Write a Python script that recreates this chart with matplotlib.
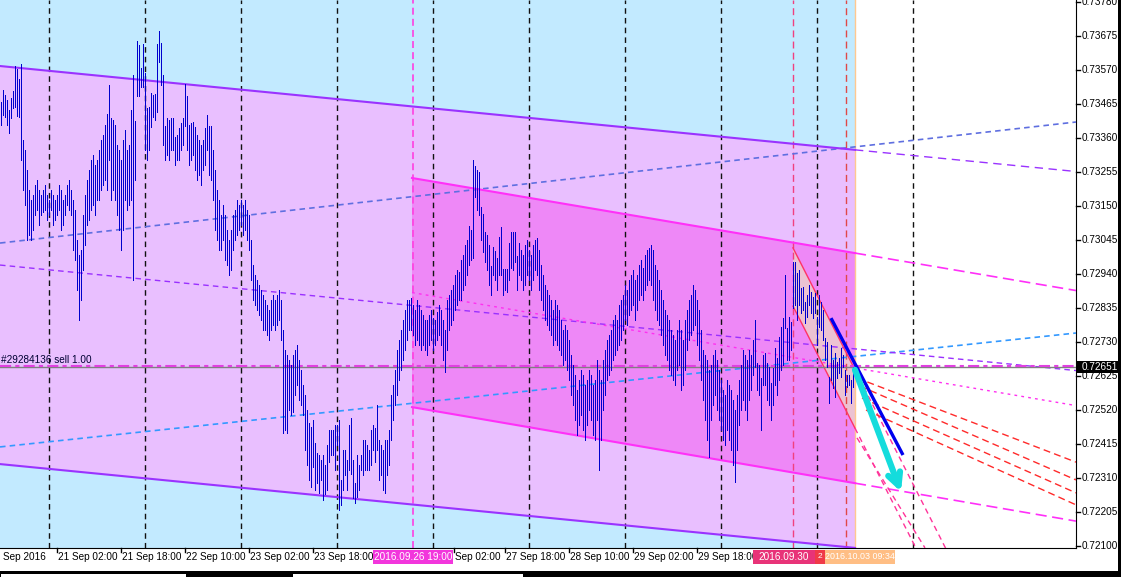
import matplotlib.pyplot as plt
import numpy as np
from matplotlib.patches import Rectangle, Polygon

plt.rcParams['lines.scale_dashes'] = False
plt.rcParams['font.family'] = ['Liberation Sans', 'DejaVu Sans']

# AUDUSD M30 bars, 20 Sep 2016 .. 2016.10.03 09:30 (bar index 0..426)
high = [
    0.73471, 0.73508, 0.73492, 0.73477, 0.73446, 0.73483, 0.73505, 0.73582, 0.73573, 0.73542,
    0.73588, 0.73353, 0.73322, 0.73261, 0.73199, 0.73168, 0.73183, 0.73214, 0.73230, 0.73199,
    0.73183, 0.73199, 0.73214, 0.73183, 0.73168, 0.73199, 0.73183, 0.73168, 0.73183, 0.73214,
    0.73199, 0.73168, 0.73183, 0.73214, 0.73230, 0.73199, 0.73168, 0.73137, 0.73044, 0.72998,
    0.73013, 0.73122, 0.73183, 0.73230, 0.73261, 0.73292, 0.73307, 0.73276, 0.73292, 0.73322,
    0.73353, 0.73369, 0.73400, 0.73434, 0.73523, 0.73421, 0.73415, 0.73400, 0.73338, 0.73322,
    0.73292, 0.73353, 0.73384, 0.73322, 0.73338, 0.73446, 0.73554, 0.73412, 0.73659, 0.73647,
    0.73576, 0.73650, 0.73560, 0.73452, 0.73455, 0.73499, 0.73492, 0.73496, 0.73650, 0.73690,
    0.73653, 0.73554, 0.73397, 0.73421, 0.73415, 0.73421, 0.73421, 0.73363, 0.73369, 0.73390,
    0.73406, 0.73421, 0.73526, 0.73489, 0.73400, 0.73406, 0.73409, 0.73394, 0.73369, 0.73353,
    0.73338, 0.73353, 0.73390, 0.73431, 0.73397, 0.73397, 0.73322, 0.73261, 0.73199, 0.73168,
    0.73122, 0.73153, 0.73122, 0.73075, 0.73044, 0.73075, 0.73122, 0.73137, 0.73168, 0.73153,
    0.73168, 0.73153, 0.73168, 0.73137, 0.73122, 0.73044, 0.72967, 0.72936, 0.72921, 0.72905,
    0.72890, 0.72874, 0.72859, 0.72844, 0.72828, 0.72859, 0.72874, 0.72859, 0.72874, 0.72890,
    0.72859, 0.72766, 0.72704, 0.72689, 0.72674, 0.72658, 0.72689, 0.72704, 0.72720, 0.72674,
    0.72643, 0.72596, 0.72565, 0.72519, 0.72479, 0.72467, 0.72488, 0.72417, 0.72386, 0.72380,
    0.72364, 0.72380, 0.72349, 0.72411, 0.72457, 0.72457, 0.72457, 0.72473, 0.72473, 0.72488,
    0.72302, 0.72395, 0.72395, 0.72364, 0.72473, 0.72494, 0.72364, 0.72294, 0.72380, 0.72349,
    0.72380, 0.72426, 0.72426, 0.72411, 0.72395, 0.72457, 0.72473, 0.72463, 0.72535, 0.72426,
    0.72411, 0.72395, 0.72426, 0.72426, 0.72457, 0.72565, 0.72596, 0.72643, 0.72704, 0.72735,
    0.72766, 0.72797, 0.72828, 0.72859, 0.72859, 0.72865, 0.72844, 0.72828, 0.72859, 0.72844,
    0.72828, 0.72813, 0.72797, 0.72797, 0.72813, 0.72828, 0.72803, 0.72797, 0.72822, 0.72844,
    0.72828, 0.72797, 0.72766, 0.72859, 0.72874, 0.72890, 0.72905, 0.72936, 0.72952, 0.72946,
    0.72983, 0.72998, 0.73029, 0.73044, 0.73088, 0.73075, 0.73292, 0.73273, 0.73261, 0.73255,
    0.73146, 0.73125, 0.73069, 0.73060, 0.73029, 0.72964, 0.73023, 0.73010, 0.72989, 0.73054,
    0.73085, 0.72955, 0.72955, 0.72955, 0.73035, 0.73069, 0.73069, 0.73069, 0.72995, 0.73035,
    0.73013, 0.72998, 0.73029, 0.73044, 0.73013, 0.72998, 0.73029, 0.73044, 0.73051, 0.73013,
    0.72967, 0.72936, 0.72905, 0.72890, 0.72874, 0.72859, 0.72828, 0.72859, 0.72844, 0.72828,
    0.72797, 0.72766, 0.72782, 0.72766, 0.72735, 0.72689, 0.72658, 0.72627, 0.72581, 0.72612,
    0.72643, 0.72627, 0.72596, 0.72612, 0.72643, 0.72627, 0.72596, 0.72612, 0.72674, 0.72643,
    0.72612, 0.72674, 0.72704, 0.72735, 0.72751, 0.72766, 0.72797, 0.72813, 0.72797, 0.72844,
    0.72859, 0.72874, 0.72905, 0.72890, 0.72921, 0.72936, 0.72952, 0.72921, 0.72936, 0.72967,
    0.72983, 0.72958, 0.72998, 0.73013, 0.73020, 0.73029, 0.73013, 0.72967, 0.72952, 0.72921,
    0.72890, 0.72859, 0.72828, 0.72813, 0.72797, 0.72766, 0.72751, 0.72735, 0.72766, 0.72797,
    0.72766, 0.72735, 0.72797, 0.72828, 0.72859, 0.72874, 0.72905, 0.72890, 0.72859, 0.72828,
    0.72766, 0.72704, 0.72689, 0.72674, 0.72643, 0.72658, 0.72689, 0.72704, 0.72674, 0.72643,
    0.72612, 0.72581, 0.72565, 0.72612, 0.72596, 0.72581, 0.72550, 0.72519, 0.72565, 0.72612,
    0.72658, 0.72704, 0.72689, 0.72674, 0.72704, 0.72689, 0.72735, 0.72797, 0.72664, 0.72658,
    0.72618, 0.72689, 0.72695, 0.72664, 0.72652, 0.72603, 0.72649, 0.72711, 0.72680, 0.72745,
    0.72776, 0.72803, 0.72936, 0.72772, 0.72806, 0.72791, 0.72976, 0.72976, 0.72942, 0.72952,
    0.72896, 0.72899, 0.72853, 0.72874, 0.72905, 0.72884, 0.72868, 0.72881, 0.72806, 0.72874,
    0.72853, 0.72828, 0.72742, 0.72729, 0.72621, 0.72720, 0.72674, 0.72695, 0.72667, 0.72680,
    0.72711, 0.72689, 0.72643, 0.72627, 0.72627, 0.72612, 0.72652,
]
low = [
    0.73400, 0.73431, 0.73424, 0.73400, 0.73375, 0.73421, 0.73452, 0.73455, 0.73428, 0.73424,
    0.73292, 0.73199, 0.73153, 0.73044, 0.73060, 0.73044, 0.73075, 0.73122, 0.73137, 0.73091,
    0.73122, 0.73131, 0.73137, 0.73106, 0.73122, 0.73137, 0.73091, 0.73106, 0.73122, 0.73137,
    0.73075, 0.73091, 0.73122, 0.73153, 0.73137, 0.73122, 0.73013, 0.72983, 0.72890, 0.72797,
    0.72859, 0.72952, 0.73029, 0.73091, 0.73106, 0.73137, 0.73153, 0.73122, 0.73168, 0.73168,
    0.73199, 0.73214, 0.73230, 0.73199, 0.73292, 0.73168, 0.73199, 0.73168, 0.73122, 0.73075,
    0.73013, 0.73075, 0.73168, 0.73137, 0.73153, 0.73168, 0.72921, 0.73230, 0.73489, 0.73489,
    0.73517, 0.73517, 0.73322, 0.73292, 0.73322, 0.73394, 0.73424, 0.73415, 0.73440, 0.73594,
    0.73523, 0.73338, 0.73292, 0.73307, 0.73292, 0.73322, 0.73322, 0.73276, 0.73292, 0.73292,
    0.73322, 0.73338, 0.73397, 0.73322, 0.73276, 0.73292, 0.73307, 0.73261, 0.73230, 0.73245,
    0.73214, 0.73261, 0.73276, 0.73322, 0.73245, 0.73230, 0.73168, 0.73075, 0.73044, 0.73013,
    0.73013, 0.73044, 0.72983, 0.72967, 0.72936, 0.72952, 0.73013, 0.73044, 0.73060, 0.73075,
    0.73091, 0.73060, 0.73075, 0.73044, 0.73013, 0.72921, 0.72859, 0.72844, 0.72828, 0.72813,
    0.72797, 0.72766, 0.72766, 0.72751, 0.72735, 0.72766, 0.72782, 0.72766, 0.72782, 0.72797,
    0.72735, 0.72448, 0.72457, 0.72448, 0.72519, 0.72504, 0.72513, 0.72565, 0.72596, 0.72550,
    0.72535, 0.72504, 0.72395, 0.72349, 0.72302, 0.72281, 0.72343, 0.72271, 0.72294, 0.72263,
    0.72302, 0.72241, 0.72260, 0.72271, 0.72358, 0.72380, 0.72380, 0.72333, 0.72411, 0.72210,
    0.72226, 0.72271, 0.72318, 0.72271, 0.72333, 0.72321, 0.72247, 0.72232, 0.72250, 0.72271,
    0.72333, 0.72318, 0.72333, 0.72333, 0.72333, 0.72349, 0.72395, 0.72358, 0.72395, 0.72302,
    0.72318, 0.72271, 0.72263, 0.72318, 0.72349, 0.72426, 0.72488, 0.72535, 0.72565, 0.72612,
    0.72643, 0.72674, 0.72704, 0.72735, 0.72766, 0.72766, 0.72751, 0.72720, 0.72735, 0.72720,
    0.72704, 0.72720, 0.72704, 0.72689, 0.72720, 0.72735, 0.72704, 0.72720, 0.72735, 0.72751,
    0.72720, 0.72674, 0.72637, 0.72704, 0.72766, 0.72782, 0.72797, 0.72828, 0.72844, 0.72859,
    0.72859, 0.72890, 0.72905, 0.72936, 0.72967, 0.72983, 0.72989, 0.73177, 0.73137, 0.73122,
    0.73044, 0.73007, 0.72976, 0.72952, 0.72905, 0.72874, 0.72936, 0.72921, 0.72890, 0.72936,
    0.72936, 0.72874, 0.72890, 0.72884, 0.72921, 0.72958, 0.72952, 0.72976, 0.72890, 0.72936,
    0.72921, 0.72890, 0.72905, 0.72936, 0.72921, 0.72890, 0.72921, 0.72952, 0.72936, 0.72890,
    0.72859, 0.72828, 0.72797, 0.72782, 0.72766, 0.72751, 0.72720, 0.72735, 0.72720, 0.72704,
    0.72689, 0.72658, 0.72674, 0.72643, 0.72612, 0.72565, 0.72535, 0.72488, 0.72442, 0.72473,
    0.72504, 0.72457, 0.72426, 0.72473, 0.72519, 0.72488, 0.72442, 0.72426, 0.72488, 0.72333,
    0.72426, 0.72519, 0.72565, 0.72612, 0.72627, 0.72643, 0.72674, 0.72689, 0.72704, 0.72720,
    0.72735, 0.72766, 0.72797, 0.72782, 0.72813, 0.72828, 0.72844, 0.72797, 0.72828, 0.72859,
    0.72874, 0.72859, 0.72890, 0.72905, 0.72921, 0.72905, 0.72859, 0.72828, 0.72797, 0.72782,
    0.72751, 0.72720, 0.72689, 0.72674, 0.72643, 0.72627, 0.72612, 0.72596, 0.72643, 0.72658,
    0.72581, 0.72596, 0.72643, 0.72704, 0.72735, 0.72751, 0.72766, 0.72782, 0.72720, 0.72674,
    0.72612, 0.72550, 0.72488, 0.72426, 0.72374, 0.72488, 0.72535, 0.72565, 0.72519, 0.72488,
    0.72457, 0.72426, 0.72411, 0.72457, 0.72426, 0.72395, 0.72349, 0.72297, 0.72395, 0.72473,
    0.72519, 0.72550, 0.72519, 0.72488, 0.72550, 0.72581, 0.72627, 0.72652, 0.72581, 0.72565,
    0.72457, 0.72596, 0.72596, 0.72550, 0.72535, 0.72488, 0.72535, 0.72596, 0.72565, 0.72612,
    0.72643, 0.72658, 0.72772, 0.72674, 0.72674, 0.72704, 0.72834, 0.72844, 0.72797, 0.72844,
    0.72819, 0.72828, 0.72788, 0.72806, 0.72844, 0.72819, 0.72803, 0.72819, 0.72720, 0.72776,
    0.72766, 0.72735, 0.72674, 0.72652, 0.72541, 0.72612, 0.72587, 0.72559, 0.72618, 0.72633,
    0.72621, 0.72652, 0.72565, 0.72590, 0.72596, 0.72541, 0.72590,
]

# price scale
price_ticks = [0.72100, 0.72205, 0.72310, 0.72415, 0.72520, 0.72625, 0.72730, 0.72835,
               0.72940, 0.73045, 0.73150, 0.73255, 0.73360, 0.73465, 0.73570, 0.73675, 0.73780]
bid = 0.72651
order_label = '#29284136 sell 1.00'

# time scale (bar index of each label)
time_labels = ['20 Sep 2016', '21 Sep 02:00', '21 Sep 18:00', '22 Sep 10:00', '23 Sep 02:00',
               '23 Sep 18:00', 'Sep 02:00', '27 Sep 18:00', '28 Sep 10:00', '29 Sep 02:00',
               '29 Sep 18:00']
time_pos = [-6.5, 28, 60, 92, 124, 156, 226.5, 252, 284, 316, 348]
day_starts = [24, 72, 120, 168, 216, 264, 312, 360, 408, 456]
now_bar = 426.5

# channels: (bar, price) anchors
big_t = [-0.5, 427]
big_up = [0.73582, 0.73323]
big_mid = [0.72967, 0.72708]
big_lo = [0.72352, 0.72093]
mid_t = [205.5, 427]
mid_up = [0.73236, 0.73004]
mid_mid = [0.72882, 0.72649]
mid_lo = [0.72528, 0.72293]
small_t = [396, 427]
small_up = [0.73020, 0.72643]
small_lo = [0.72840, 0.72463]

# other trend lines: (t0, p0, t1, p1)
trend_blue1 = (-0.5, 0.72405, 537.5, 0.72757)
trend_blue2 = (-0.5, 0.73035, 537.5, 0.73409)
trend_thick = (415, 0.72803, 451, 0.72380)
arrow_from = (427, 0.72643)
arrow_to = (450, 0.72266)
red_fan = [(428, 0.72618, 537.5, 0.72358), (429.5, 0.72593, 537.5, 0.72303),
           (430.5, 0.72556, 537.5, 0.72263), (432.5, 0.72519, 537.5, 0.72226)]
pink_steep = [(428, 0.72433, 462, 0.72093)]

W, H = 1121, 577
fig = plt.figure(figsize=(W / 100, H / 100), dpi=100)
fig.patch.set_facecolor('white')
ax = fig.add_axes([0, 29 / H, 1076 / W, 548 / H])
ax.set_xlim(-0.5, 537.5)
ax.set_ylim(0.720927, 0.73786)
ax.set_facecolor('white')


def line_at(t, p, tt):
    s = (p[1] - p[0]) / (t[1] - t[0])
    return p[0] + s * (np.asarray(tt) - t[0])


XR = 537.5
# background objects
ax.axvspan(-0.5, now_bar + 0.5, color='#C2EAFF', zorder=0, lw=0)
ax.add_patch(Polygon([(big_t[0], big_up[0]), (big_t[1], big_up[1]),
                      (big_t[1], big_lo[1]), (big_t[0], big_lo[0])],
                     closed=True, fc='#E9BFFF', ec='none', zorder=1))
ax.add_patch(Polygon([(mid_t[0], mid_up[0]), (mid_t[1], mid_up[1]),
                      (mid_t[1], mid_lo[1]), (mid_t[0], mid_lo[0])],
                     closed=True, fc='#EE88F7', ec='none', zorder=1.1))
ax.add_patch(Polygon([(small_t[0], small_up[0]), (small_t[1], small_up[1]),
                      (small_t[1], small_lo[1]), (small_t[0], small_lo[0])],
                     closed=True, fc='#ECC2D2', ec='none', zorder=1.2))

# vertical separators
for d in day_starts:
    ax.axvline(d, color='#111111', lw=1, dashes=(4, 3), zorder=2)
ax.axvline(206, color='#FF3FE0', lw=1.2, dashes=(5, 3), zorder=2)
ax.axvline(396, color='#F0407F', lw=1, dashes=(5, 3), zorder=2)
ax.axvline(422.5, color='#E04848', lw=1, dashes=(5, 3), zorder=2)
ax.axvline(now_bar + 0.5, color='#FFC890', lw=1, zorder=2)

# trend lines behind bars
for tl, c in [(trend_blue1, '#3399FF'), (trend_blue2, '#5F6FE0')]:
    ax.plot([tl[0], tl[2]], [tl[1], tl[3]], color=c, lw=1.2, dashes=(4, 3), zorder=3)

ax.plot([big_t[0], XR], line_at(big_t, big_mid, [big_t[0], XR]), color='#9A30FF', lw=1,
        dashes=(4, 3), zorder=3)
ax.plot([mid_t[0], XR], line_at(mid_t, mid_mid, [mid_t[0], XR]), color='#FF30F0', lw=1,
        dashes=(2, 3), zorder=3)

# channel borders
ax.plot(big_t, big_up, color='#9A33FF', lw=1.5, zorder=3)
ax.plot(big_t, big_lo, color='#9A33FF', lw=1.5, zorder=3)
ax.plot([big_t[1], XR], line_at(big_t, big_up, [big_t[1], XR]), color='#9A33FF', lw=1,
        dashes=(6, 4), zorder=3)
ax.plot(mid_t, mid_up, color='#FF30F8', lw=1.5, zorder=3)
ax.plot(mid_t, mid_lo, color='#FF30F8', lw=1.5, zorder=3)
for ch in (mid_up, mid_lo):
    ax.plot([mid_t[1], XR], line_at(mid_t, ch, [mid_t[1], XR]), color='#FF30F8', lw=1.2,
            dashes=(8, 4), zorder=3)
ax.plot(small_t, small_up, color='#FF3366', lw=1, zorder=3)
ax.plot(small_t, small_lo, color='#FF3366', lw=1, zorder=3)
for ch in (small_up, small_lo):
    ax.plot([small_t[1], small_t[1] + 70], line_at(small_t, ch, [small_t[1], small_t[1] + 70]),
            color='#FF3399', lw=1, dashes=(4, 3), zorder=3)
for tl in pink_steep:
    ax.plot([tl[0], tl[2]], [tl[1], tl[3]], color='#FF3399', lw=1, dashes=(4, 3), zorder=3)
for tl in red_fan:
    ax.plot([tl[0], tl[2]], [tl[1], tl[3]], color='#FF2A2A', lw=1, dashes=(5, 3), zorder=3)

# order line
ax.axhline(bid, color='#808080', lw=1, zorder=3)
ax.axhline(bid + 0.00003, color='#E040E0', lw=1.5, dashes=(8, 3, 3, 3), zorder=3)

# price bars
idx = np.arange(len(high))
ax.vlines(idx, low, high, color='#0000CD', lw=0.72, zorder=4, antialiased=False)

# hand drawn trend line and arrow
ax.plot([trend_thick[0], trend_thick[2]], [trend_thick[1], trend_thick[3]], color='#0000EE',
        lw=2.4, zorder=5, solid_capstyle='butt')
ax.annotate('', xy=arrow_to, xytext=arrow_from,
            arrowprops=dict(arrowstyle='->,head_length=0.9,head_width=0.45', color='#14DCDC',
                            lw=4.5, shrinkA=0, shrinkB=0), zorder=5)

ax.text(0, bid + 0.00012, order_label, fontsize=7.2, color='#000033', ha='left', va='baseline',
        zorder=6)

# frame: only right and bottom like the terminal
for s in ('top', 'left'):
    ax.spines[s].set_visible(False)
ax.spines['right'].set_color('black')
ax.spines['bottom'].set_color('black')
ax.set_xticks([])
ax.set_yticks([])

# price axis on right
yt = ax.get_yaxis_transform()
for p in price_ticks:
    ax.plot([1.0, 1.0037], [p, p], transform=yt, color='black', lw=1, clip_on=False)
    ax.text(1.0056, p, f'{p:.5f}', transform=yt, fontsize=7.2, va='center', ha='left',
            clip_on=False)
ax.add_patch(Rectangle((1.0009, bid - 0.00018), 0.05, 0.00036, transform=yt, fc='black',
                       ec='none', clip_on=False, zorder=7))
ax.text(1.0056, bid, f'{bid:.5f}', transform=yt, fontsize=7.2, va='center', ha='left',
        color='white', clip_on=False, zorder=8)

# time axis
xt = ax.get_xaxis_transform()
for t, lab in zip(time_pos, time_labels):
    ax.plot([t, t], [0, -0.008], transform=xt, color='black', lw=1, clip_on=False)
    ax.text(t + 0.5, -0.016, lab, transform=xt, fontsize=7.2, va='center', ha='left',
            clip_on=False)

# highlighted time labels of selected objects: (x0, x1, colour, text, size)
hl = [(186, 226, '#F236DC', '2016.09.26 19:00', 7.2),
      (376, 407, '#E83378', '2016.09.30', 7.2),
      (407, 412, '#F03A48', '2', 6.0),
      (412, 447, '#FFBE84', '2016.10.03 09:34', 6.4)]
for x0, x1, c, lab, fs in hl:
    ax.add_patch(Rectangle((x0, -0.029), x1 - x0, 0.026, transform=xt, fc=c, ec='none',
                           clip_on=False, zorder=7))
    ax.text((x0 + x1) / 2, -0.016, lab, transform=xt, fontsize=fs, color='white',
            va='center', ha='center', clip_on=False, zorder=8)

# terminal chrome below and right
fig.add_artist(Rectangle((0, 0), 1, 6 / H, transform=fig.transFigure, fc='black', ec='none'))
fig.add_artist(Rectangle((1 / W, 0), 185 / W, 3 / H, transform=fig.transFigure, fc='white',
                         ec='none'))
fig.add_artist(Rectangle((293 / W, 0), 230 / W, 3 / H, transform=fig.transFigure, fc='white',
                         ec='none'))
fig.add_artist(Rectangle((1 - 3 / W, 0), 3 / W, 1, transform=fig.transFigure, fc='black',
                         ec='none'))

fig.savefig('out.png', dpi=100)
